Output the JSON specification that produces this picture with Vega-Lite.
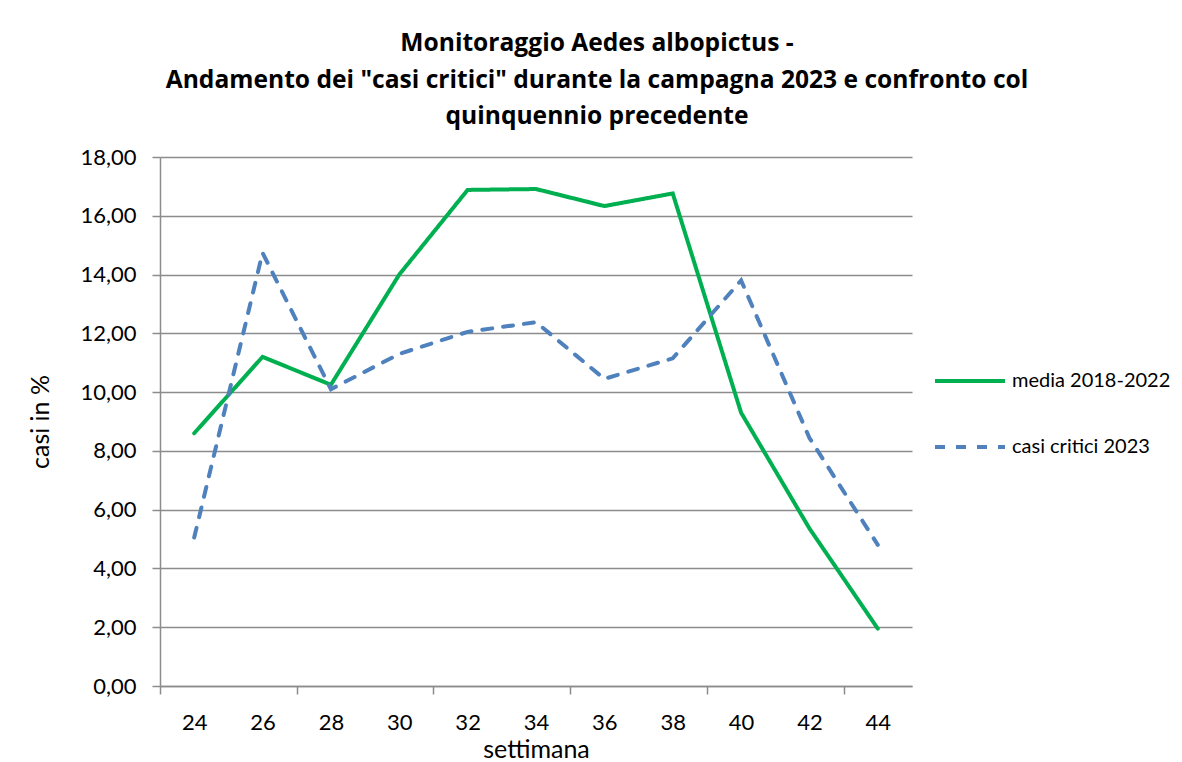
{
  "$schema": "https://vega.github.io/schema/vega-lite/v6.json",
  "width": 752,
  "height": 529,
  "autosize": {"type": "none"},
  "padding": {"left": 160, "top": 157, "right": 270, "bottom": 76},
  "background": "white",
  "config": {"view": {"stroke": null}, "font": "Lato"},
  "title": {
    "text": ["Monitoraggio Aedes albopictus -", "Andamento dei \"casi critici\" durante la campagna 2023 e confronto col", "quinquennio precedente"],
    "font": "Open Sans",
    "fontSize": 24.6,
    "fontWeight": "bold",
    "color": "black",
    "anchor": "middle",
    "dx": 61,
    "lineHeight": 36.5,
    "offset": 16,
    "limit": 1150
  },
  "data": {
    "values": [
      {"settimana": 24, "serie": "media 2018-2022", "valore": 8.6},
      {"settimana": 26, "serie": "media 2018-2022", "valore": 11.2},
      {"settimana": 28, "serie": "media 2018-2022", "valore": 10.25},
      {"settimana": 30, "serie": "media 2018-2022", "valore": 14.0},
      {"settimana": 32, "serie": "media 2018-2022", "valore": 16.88},
      {"settimana": 34, "serie": "media 2018-2022", "valore": 16.91},
      {"settimana": 36, "serie": "media 2018-2022", "valore": 16.33},
      {"settimana": 38, "serie": "media 2018-2022", "valore": 16.76},
      {"settimana": 40, "serie": "media 2018-2022", "valore": 9.3},
      {"settimana": 42, "serie": "media 2018-2022", "valore": 5.36},
      {"settimana": 44, "serie": "media 2018-2022", "valore": 1.95},
      {"settimana": 24, "serie": "casi critici 2023", "valore": 5.05},
      {"settimana": 26, "serie": "casi critici 2023", "valore": 14.74},
      {"settimana": 28, "serie": "casi critici 2023", "valore": 10.1},
      {"settimana": 30, "serie": "casi critici 2023", "valore": 11.3},
      {"settimana": 32, "serie": "casi critici 2023", "valore": 12.05},
      {"settimana": 34, "serie": "casi critici 2023", "valore": 12.38},
      {"settimana": 36, "serie": "casi critici 2023", "valore": 10.45},
      {"settimana": 38, "serie": "casi critici 2023", "valore": 11.15},
      {"settimana": 40, "serie": "casi critici 2023", "valore": 13.8},
      {"settimana": 42, "serie": "casi critici 2023", "valore": 8.44},
      {"settimana": 44, "serie": "casi critici 2023", "valore": 4.8}
    ]
  },
  "mark": {"type": "line", "strokeWidth": 4, "strokeCap": "round", "strokeJoin": "miter"},
  "encoding": {
    "x": {
      "field": "settimana",
      "type": "quantitative",
      "scale": {"domain": [23, 45], "nice": false, "zero": false},
      "axis": {
        "values": [23, 24, 26, 27, 28, 30, 31, 32, 34, 35, 36, 38, 39, 40, 42, 43, 44],
        "labelExpr": "datum.value % 2 == 0 ? datum.label : ''",
        "format": "d",
        "grid": false,
        "domainColor": "#8c8c8c",
        "domainWidth": 1.5,
        "tickColor": "#8c8c8c",
        "tickWidth": 1.5,
        "tickSize": 8,
        "tickOpacity": {"condition": {"test": "datum.value % 4 == 3", "value": 1}, "value": 0},
        "labelFont": "Lato",
        "labelFontSize": 22,
        "labelColor": "black",
        "labelPadding": 18,
        "labelFlush": false,
        "labelOverlap": false,
        "title": "settimana",
        "titleFont": "Lato",
        "titleFontSize": 25,
        "titleFontWeight": "normal",
        "titleColor": "black",
        "titlePadding": 4
      }
    },
    "y": {
      "field": "valore",
      "type": "quantitative",
      "scale": {"domain": [0, 18], "nice": false},
      "axis": {
        "values": [0, 2, 4, 6, 8, 10, 12, 14, 16, 18],
        "labelExpr": "replace(format(datum.value, '.2f'), '.', ',')",
        "grid": true,
        "gridColor": "#8c8c8c",
        "gridWidth": 1.5,
        "domainColor": "#8c8c8c",
        "domainWidth": 1.5,
        "tickColor": "#8c8c8c",
        "tickWidth": 1.5,
        "tickSize": 8,
        "labelFont": "Lato",
        "labelFontSize": 22,
        "labelColor": "black",
        "labelPadding": 16,
        "labelFlush": false,
        "title": "casi in %",
        "titleFont": "Lato",
        "titleFontSize": 25,
        "titleFontWeight": "normal",
        "titleColor": "black",
        "titlePadding": 26
      }
    },
    "color": {
      "field": "serie",
      "type": "nominal",
      "scale": {"domain": ["media 2018-2022", "casi critici 2023"], "range": ["#00B050", "#4F81BD"]},
      "legend": {
        "orient": "none",
        "legendX": 773,
        "legendY": 187,
        "title": null,
        "symbolType": "stroke",
        "symbolSize": 4900,
        "symbolStrokeWidth": 4,
        "labelFont": "Lato",
        "labelFontSize": 20,
        "labelColor": "black",
        "labelOffset": 5,
        "labelLimit": 300,
        "rowPadding": 19
      }
    },
    "strokeDash": {
      "field": "serie",
      "type": "nominal",
      "scale": {"domain": ["media 2018-2022", "casi critici 2023"], "range": [[1, 0], [10, 11]]},
      "legend": {
        "orient": "none",
        "legendX": 773,
        "legendY": 187,
        "title": null,
        "symbolType": "stroke",
        "symbolSize": 4900,
        "symbolStrokeWidth": 4,
        "labelFont": "Lato",
        "labelFontSize": 20,
        "labelColor": "black",
        "labelOffset": 5,
        "labelLimit": 300,
        "rowPadding": 19
      }
    }
  }
}
